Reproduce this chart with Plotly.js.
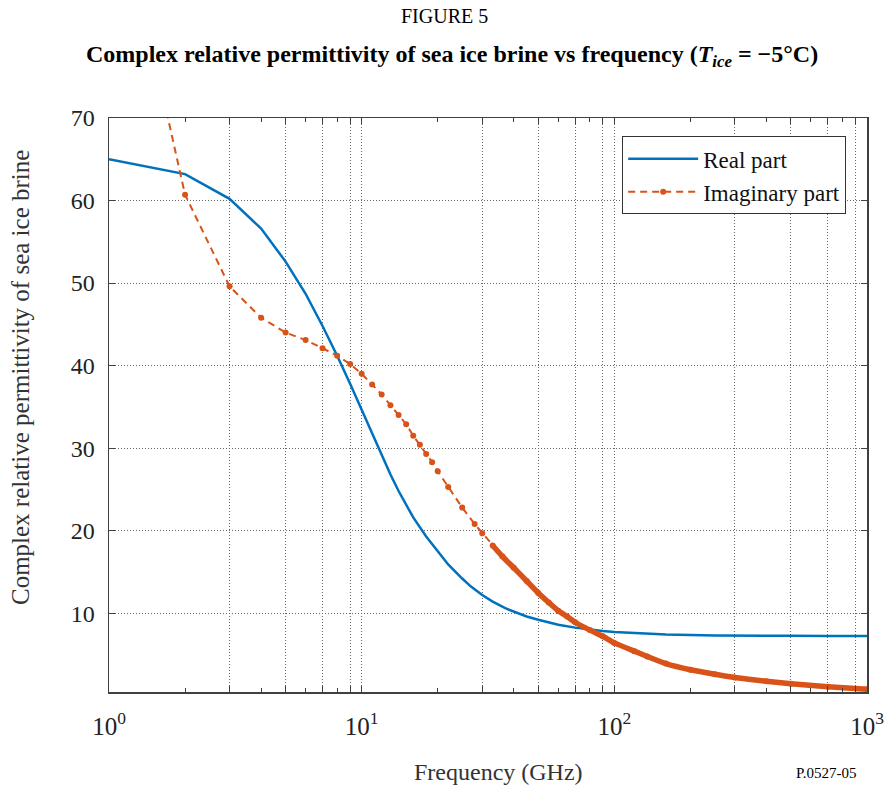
<!DOCTYPE html>
<html>
<head>
<meta charset="utf-8">
<script src="https://cdn.plot.ly/plotly-3.0.1.min.js"></script>
<style>html,body{margin:0;padding:0;background:#fff;}#chart{width:890px;height:787px;}</style>
</head>
<body>
<div id="chart"></div>
<script>
// Frequency (GHz) and real part of permittivity
const freqReal = [1,2,3,4,5,6,7,8,9,10,11,12,13,14,15,16,18,20,22,25,27,30,33,37,40,45,50,60,70,80,90,100,120,160,250,300,500,700,1000];
const realPart = [65.0,63.2,60.2,56.6,52.6,48.7,44.8,41.2,37.8,34.6,31.9,29.1,26.8,24.8,23.1,21.6,19.3,17.5,15.9,14.2,13.25,12.2,11.4,10.6,10.2,9.6,9.2,8.6,8.25,8.0,7.85,7.72,7.58,7.42,7.3,7.27,7.26,7.25,7.25];

// Frequency (GHz) and imaginary part of permittivity
const freqImag = [1,2,3,4,5,6,7,8,9,10,11,12,13,14,15,16,17,18,19,20,22,25,28,30,33,36,40,45,50,55,60,65,70,80,90,100,120,135,160,200,250,300,400,500,700,1000];
const imagPart = [102,60.7,49.6,45.8,44.0,43.1,42.1,41.2,40.2,39.0,37.7,36.5,35.2,34.0,32.9,31.5,30.4,29.3,28.3,27.2,25.3,22.8,20.8,19.7,18.2,16.9,15.5,13.9,12.45,11.3,10.3,9.6,8.9,7.95,7.2,6.4,5.4,4.76,3.9,3.15,2.6,2.2,1.75,1.45,1.08,0.78];

// Axis ticks
const xTickVals = [1,3,5,7,9,10,30,50,70,90,100,300,500,700,900,1000];
const xTickText = ['10<sup>0</sup>','','','','','10<sup>1</sup>','','','','','10<sup>2</sup>','','','','','10<sup>3</sup>'];
const xMinorVals = [2,4,6,8,20,40,60,80,200,400,600,800];
const yTickVals = [10,20,30,40,50,60,70];

const denseFrom = 33;
const denseF = freqImag.filter(f => f >= denseFrom);
const denseV = imagPart.filter((v, i) => freqImag[i] >= denseFrom);

const blue = '#0072BD';
const orange = '#D95319';
const font = "'Liberation Serif', 'Times New Roman', serif";
const axisColor = '#404040';

const traces = [
  {x: freqReal, y: realPart, type: 'scatter', mode: 'lines', name: 'Real part',
   line: {color: blue, width: 2.5}},
  {x: freqImag, y: imagPart, type: 'scatter', mode: 'lines+markers', name: 'Imaginary part',
   line: {color: orange, width: 2, dash: '7px,5px'}, marker: {color: orange, size: 6}},
  {x: denseF, y: denseV, type: 'scatter', mode: 'lines', showlegend: false, hoverinfo: 'skip',
   line: {color: orange, width: 5.5, shape: 'spline', smoothing: 0.3}}
];

const layout = {
  width: 890, height: 787,
  margin: {l: 109, r: 23, t: 118, b: 95},
  paper_bgcolor: '#fff', plot_bgcolor: '#fff',
  font: {family: font, color: '#222'},
  showlegend: true,
  legend: {x: 0.677, y: 0.968, xanchor: 'left', yanchor: 'top',
    bgcolor: '#fff', bordercolor: '#333', borderwidth: 1, itemwidth: 70,
    font: {family: font, size: 23, color: '#111'}, tracegroupgap: 0},
  xaxis: {type: 'log', range: [0, 3], tickmode: 'array', tickvals: xTickVals, ticktext: xTickText,
    ticks: 'inside', ticklen: 6, tickcolor: axisColor, showline: true, linecolor: axisColor, linewidth: 1.5,
    mirror: 'allticks', showgrid: true, gridcolor: '#666', griddash: '1px,2px', gridwidth: 1,
    zeroline: false, tickfont: {family: font, size: 25, color: '#222'}, ticklabelstandoff: 11,
    minor: {tickmode: 'array', tickvals: xMinorVals, ticks: 'inside', ticklen: 4, tickcolor: axisColor, showgrid: false}},
  yaxis: {range: [0.45, 70], tickmode: 'array', tickvals: yTickVals,
    ticks: 'inside', ticklen: 6, tickcolor: axisColor, showline: true, linecolor: axisColor, linewidth: 1.5,
    mirror: 'ticks', showgrid: true, gridcolor: '#666', griddash: '1px,2px', gridwidth: 1,
    zeroline: false, tickfont: {family: font, size: 24, color: '#222'}, ticklabelstandoff: 8},
  annotations: [
    {text: 'FIGURE 5', xref: 'paper', yref: 'paper', x: 0.443, y: 1.177, xanchor: 'center', yanchor: 'middle',
     showarrow: false, font: {family: font, size: 20, color: '#000'}},
    {text: '<b>Complex relative permittivity of sea ice brine vs frequency (<i>T</i><sub><i>ice</i></sub> = \u22125\u00B0C)</b>',
     xref: 'paper', yref: 'paper', x: 0.4525, y: 1.108, xanchor: 'center', yanchor: 'middle',
     showarrow: false, font: {family: font, size: 24, color: '#000'}},
    {text: 'Frequency (GHz)', xref: 'paper', yref: 'paper', x: 0.5145, y: -0.1395, xanchor: 'center', yanchor: 'middle',
     showarrow: false, font: {family: font, size: 24, color: '#333'}},
    {text: 'Complex relative permittivity of sea ice brine', xref: 'paper', yref: 'paper', x: -0.117, y: 0.5475,
     xanchor: 'center', yanchor: 'middle', textangle: -90,
     showarrow: false, font: {family: font, size: 25, color: '#333'}},
    {text: 'P.0527-05', xref: 'paper', yref: 'paper', x: 0.988, y: -0.141, xanchor: 'right', yanchor: 'middle',
     showarrow: false, font: {family: font, size: 15, color: '#000'}}
  ]
};

Plotly.newPlot('chart', traces, layout, {displayModeBar: false, staticPlot: true});
</script>
</body>
</html>
